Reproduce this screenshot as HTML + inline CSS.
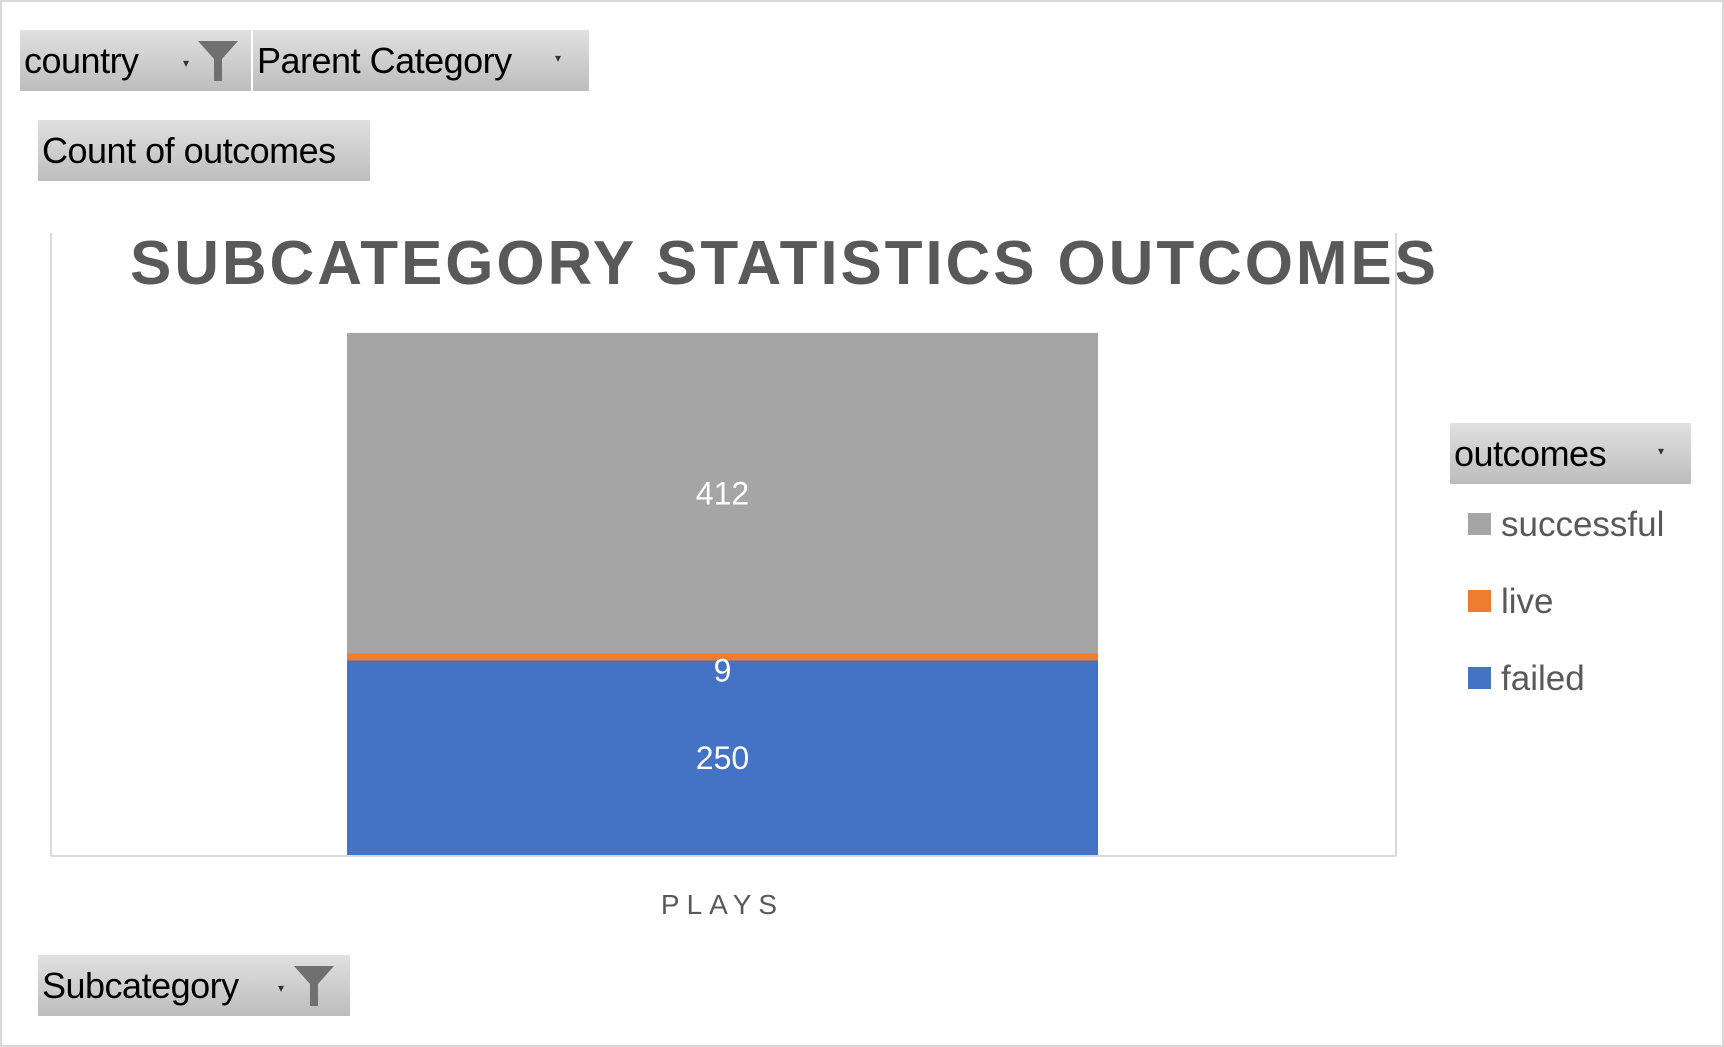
<!DOCTYPE html>
<html><head><meta charset="utf-8"><style>
html,body{margin:0;padding:0;background:#fff;}
body{width:1724px;height:1047px;position:relative;overflow:hidden;font-family:"Liberation Sans",sans-serif;}
.frame{position:absolute;left:0;top:0;width:1720px;height:1043px;border:2px solid #d9d9d9;}
.btn{position:absolute;background:linear-gradient(#e0e0e0,#bdbdbd);color:#000;font-size:36px;line-height:61px;height:61px;padding-left:4px;box-sizing:border-box;letter-spacing:-0.5px;}
.arrow{position:absolute;font-size:12px;color:#333;}
</style></head><body>
<div class="frame"></div>
<div class="btn" style="left:20px;top:30px;width:231px;">country
<span class="arrow" style="left:163px;top:3px;">▾</span>
<svg style="position:absolute;left:178px;top:11px" width="40" height="40"><path d="M0 0H40L24 18V40H16V18Z" fill="#707070"/></svg></div>
<div class="btn" style="left:253px;top:30px;width:336px;">Parent Category<span class="arrow" style="left:302px;top:-2px;">▾</span></div>
<div class="btn" style="left:38px;top:120px;width:332px;">Count of outcomes</div>
<div class="btn" style="left:1450px;top:423px;width:241px;">outcomes<span class="arrow" style="left:208px;top:-2px;">▾</span></div>
<div class="btn" style="left:38px;top:955px;width:312px;">Subcategory<span class="arrow" style="left:240px;top:3px;">▾</span>
<svg style="position:absolute;left:256px;top:11px" width="40" height="40"><path d="M0 0H40L24 18V40H16V18Z" fill="#707070"/></svg></div>
<svg id="chart" width="1724" height="1047" style="position:absolute;left:0;top:0;pointer-events:none">
<line x1="51" y1="233" x2="51" y2="856" stroke="#d9d9d9" stroke-width="2"/>
<line x1="1396" y1="233" x2="1396" y2="856" stroke="#d9d9d9" stroke-width="2"/>
<line x1="51" y1="856" x2="1396" y2="856" stroke="#d9d9d9" stroke-width="2"/>
<text x="786" y="284" text-anchor="middle" font-size="62" font-weight="bold" fill="#595959" letter-spacing="6" textLength="1312" lengthAdjust="spacing">SUBCATEGORY STATISTICS OUTCOMES</text>
<g id="bars"></g>
<g id="legend"></g>
</svg>
<script>
const categories = ["PLAYS"];
const seriesNames = ["failed","live","successful"];
const failedValues = [250];
const liveValues = [9];
const successfulValues = [412];
const colors = {failed:"#4472c4", live:"#ed7d31", successful:"#a5a5a5"};
const NS="http://www.w3.org/2000/svg";
const plotTop=333, plotBottom=855, barLeft=347, barW=751;
const totals = categories.map((c,i)=>failedValues[i]+liveValues[i]+successfulValues[i]);
const yMax = Math.max(...totals);
function y(v){return plotBottom-(v/yMax)*(plotBottom-plotTop);}
const g=document.getElementById('bars');
const labelG=document.createElementNS(NS,'g');
const legendG=document.getElementById('legend');
const vals={failed:failedValues,live:liveValues,successful:successfulValues};
categories.forEach((cat,i)=>{
  let base=0;
  seriesNames.forEach(s=>{
    const v=vals[s][i];
    const r=document.createElementNS(NS,'rect');
    r.setAttribute('x',barLeft);r.setAttribute('width',barW);
    r.setAttribute('y',y(base+v));r.setAttribute('height',y(base)-y(base+v));
    r.setAttribute('fill',colors[s]);
    
    
    g.appendChild(r);
    const t=document.createElementNS(NS,'text');
    t.setAttribute('x',barLeft+barW/2);
    const small=(y(base)-y(base+v))<30;
    t.setAttribute('y', small ? y(base)+21 : (y(base)+y(base+v))/2+11);
    t.setAttribute('text-anchor','middle');t.setAttribute('font-size','32');t.setAttribute('fill','#fff');
    t.textContent=v;
    
    
    labelG.appendChild(t);
    base+=v;
  });
  const ct=document.createElementNS(NS,'text');
  ct.setAttribute('x',barLeft+barW/2);ct.setAttribute('y',914);
  ct.setAttribute('text-anchor','middle');ct.setAttribute('font-size','28');ct.setAttribute('fill','#595959');
  ct.setAttribute('letter-spacing','7');
  ct.textContent=cat;
  
  
  g.appendChild(ct);
});
g.appendChild(labelG);
const legendOrder=["successful","live","failed"];
legendOrder.forEach((s,k)=>{
  const ly=513+k*77;
  const r=document.createElementNS(NS,'rect');
  r.setAttribute('x',1468);r.setAttribute('y',ly);r.setAttribute('width',23);r.setAttribute('height',22);
  r.setAttribute('fill',colors[s]);
  
  
  legendG.appendChild(r);
  const t=document.createElementNS(NS,'text');
  t.setAttribute('x',1501);t.setAttribute('y',ly+23);
  t.setAttribute('font-size','35');t.setAttribute('fill','#595959');
  t.textContent=s;
  
  
  legendG.appendChild(t);
});
</script>
</body></html>
